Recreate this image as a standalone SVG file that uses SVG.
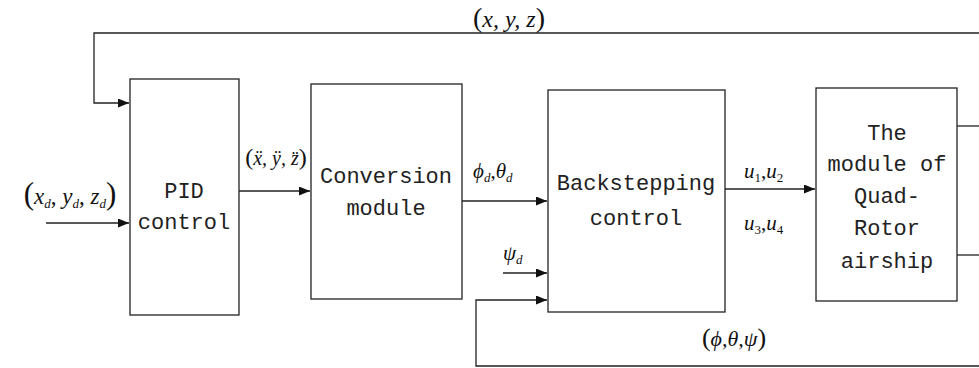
<svg xmlns="http://www.w3.org/2000/svg" width="979" height="368" viewBox="0 0 979 368">
  <style>
    .box { fill: #fff; stroke: #222; stroke-width: 1.3; }
    .lbl { font-family: "Liberation Mono", "DejaVu Sans Mono", monospace; font-size: 22px; fill: #222; text-anchor: middle; }
    .wire { fill: none; stroke: #222; stroke-width: 1.3; }
    .arr { marker-end: url(#head); }
    .math { font-family: "Liberation Serif", "Times New Roman", serif; fill: #111; }
    .it { font-style: italic; }
    .sub { font-style: italic; font-size: 13px; }
    .par { font-style: normal; }
  </style>
  <defs>
    <marker id="head" markerUnits="userSpaceOnUse" markerWidth="12" markerHeight="10" refX="11" refY="4.5" orient="auto">
      <path d="M0,0 L11,4.5 L0,9 z" fill="#111"/>
    </marker>
  </defs>

  <!-- connectors -->
  <g id="connectors">
    <!-- position feedback -->
    <polyline class="wire arr" points="979,33 94,33 94,103 129,103"/>
    <!-- desired position input -->
    <line class="wire arr" x1="46" y1="223" x2="129" y2="223"/>
    <!-- PID to conversion -->
    <line class="wire arr" x1="239" y1="191" x2="310" y2="191"/>
    <!-- conversion to backstepping -->
    <line class="wire arr" x1="462" y1="201" x2="547" y2="201"/>
    <!-- desired yaw input -->
    <line class="wire arr" x1="503" y1="273" x2="547" y2="273"/>
    <!-- attitude feedback -->
    <polyline class="wire arr" points="979,366 476,366 476,300 547,300"/>
    <!-- backstepping to airship -->
    <line class="wire arr" x1="725" y1="189" x2="815" y2="189"/>
    <!-- airship outputs -->
    <line class="wire" x1="957" y1="126" x2="979" y2="126"/>
    <line class="wire" x1="957" y1="255" x2="979" y2="255"/>
  </g>

  <!-- connector labels -->
  <g id="labels" class="math">
    <text x="509" y="27" text-anchor="middle" font-size="24"><tspan class="par" font-size="28">(</tspan><tspan class="it">x, y, z</tspan><tspan class="par" font-size="28">)</tspan></text>

    <text x="70" y="204" text-anchor="middle" font-size="23"><tspan class="par" font-size="31">(</tspan><tspan class="it">x</tspan><tspan class="sub" dy="4">d</tspan><tspan dy="-4">, </tspan><tspan class="it">y</tspan><tspan class="sub" dy="4">d</tspan><tspan dy="-4">, </tspan><tspan class="it">z</tspan><tspan class="sub" dy="4">d</tspan><tspan class="par" font-size="31" dy="-4">)</tspan></text>

    <text x="276" y="165" text-anchor="middle" font-size="20"><tspan class="par" font-size="24">(</tspan><tspan class="it">x&#776;, y&#776;, z&#776;</tspan><tspan class="par" font-size="24">)</tspan></text>

    <text x="473" y="178" font-size="21"><tspan class="it">ϕ</tspan><tspan class="sub" dy="4">d</tspan><tspan dy="-4">,</tspan><tspan class="it">θ</tspan><tspan class="sub" dy="4">d</tspan></text>

    <text x="503" y="260" font-size="21"><tspan class="it">ψ</tspan><tspan class="sub" dy="4">d</tspan></text>

    <text x="744" y="178" font-size="21"><tspan class="it">u</tspan><tspan font-size="13" dy="4">1</tspan><tspan dy="-4">,</tspan><tspan class="it">u</tspan><tspan font-size="13" dy="4">2</tspan></text>
    <text x="744" y="230" font-size="21"><tspan class="it">u</tspan><tspan font-size="13" dy="4">3</tspan><tspan dy="-4">,</tspan><tspan class="it">u</tspan><tspan font-size="13" dy="4">4</tspan></text>

    <text x="734" y="346" text-anchor="middle" font-size="22"><tspan class="par" font-size="26">(</tspan><tspan class="it">ϕ,θ,ψ</tspan><tspan class="par" font-size="26">)</tspan></text>
  </g>

  <g id="pid">
    <rect class="box" x="130" y="79" width="109" height="236"/>
    <text class="lbl" x="184" y="198">PID</text>
    <text class="lbl" x="184" y="229">control</text>
  </g>

  <g id="conversion">
    <rect class="box" x="311" y="84" width="151" height="215"/>
    <text class="lbl" x="386" y="183">Conversion</text>
    <text class="lbl" x="386" y="215">module</text>
  </g>

  <g id="backstepping">
    <rect class="box" x="548" y="90" width="177" height="222"/>
    <text class="lbl" x="636" y="190">Backstepping</text>
    <text class="lbl" x="636" y="225">control</text>
  </g>

  <g id="airship">
    <rect class="box" x="816" y="88" width="141" height="213"/>
    <text class="lbl" x="887" y="140">The</text>
    <text class="lbl" x="887" y="171">module of</text>
    <text class="lbl" x="887" y="203">Quad-</text>
    <text class="lbl" x="887" y="235">Rotor</text>
    <text class="lbl" x="887" y="268">airship</text>
  </g>
</svg>
